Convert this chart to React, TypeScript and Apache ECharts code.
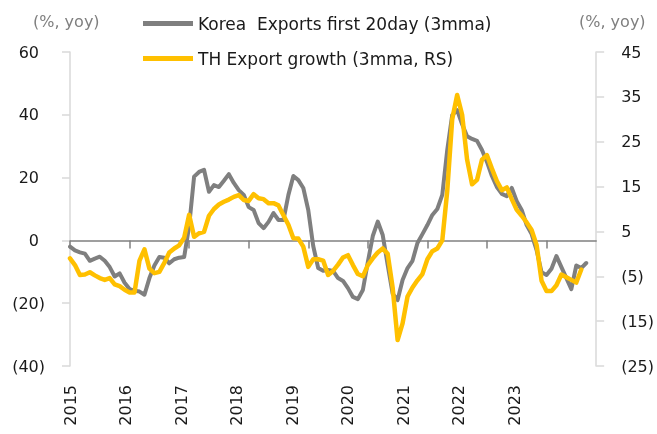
import React, { useEffect, useRef } from "react";
import * as echarts from "echarts";

const FONT = "DejaVu Sans";

// Monthly categories Jan 2015 .. Nov 2023
const categories: string[] = [];
for (let y = 2015; y <= 2023; y++) {
  for (let m = 1; m <= 12; m++) {
    if (y === 2023 && m > 11) break;
    categories.push(`${y}-${String(m).padStart(2, "0")}`);
  }
}

const yearLabels = ["2015", "2016", "2017", "2018", "2019", "2020", "2021", "2022", "2023"];

const koreaName = "Korea  Exports first 20day (3mma)";
const thName = "TH Export growth (3mma, RS)";

// Korea exports first 20 days, 3mma, % yoy (left axis)
const korea: (number | null)[] = [
  -2.0, -3.2, -3.8, -4.2, -6.5, -5.8, -5.2, -6.5, -8.5, -11.5, -10.5, -13.5,
  -15.5, -16.0, -16.3, -17.3, -12.0, -8.0, -5.3, -5.5, -7.3, -6.0, -5.5, -5.3,
  4.5, 20.3, 21.8, 22.5, 15.5, 17.6, 17.0, 19.0, 21.1, 18.3, 16.0, 14.5,
  10.6, 9.7, 5.5, 3.9, 5.9, 8.7, 6.5, 6.5, 14.5, 20.5, 19.2, 16.7,
  9.7, -1.8, -8.8, -9.7, -9.4, -9.7, -12.0, -12.9, -15.2, -18.0, -18.7, -15.8,
  -6.9, 1.4, 6.0, 1.7, -7.8, -17.0, -19.0, -12.6, -8.8, -6.5, -0.8, 2.0,
  4.9, 8.1, 10.0, 14.5, 28.8, 39.9, 41.5, 37.0, 33.2, 32.3, 31.7, 28.8,
  25.0, 20.5, 17.0, 14.8, 14.1, 16.7, 12.5, 9.7, 4.9, 2.0, -3.1, -10.1,
  -11.0, -9.0, -5.0, -8.5, -12.0, -15.5, -8.0, -8.8, -7.2, null, null,
];

// Thailand export growth, 3mma, % yoy (right axis)
const thailand: (number | null)[] = [
  -1.0, -2.5, -4.7, -4.6, -4.1, -4.8, -5.4, -5.8, -5.4, -6.8, -7.2, -8.0,
  -8.6, -8.6, -1.5, 1.0, -3.3, -4.3, -4.0, -2.0, 0.3, 1.2, 1.9, 3.6,
  8.7, 3.8, 4.6, 4.9, 8.5, 10.0, 11.0, 11.6, 12.1, 12.7, 13.1, 12.0,
  11.8, 13.3, 12.4, 12.2, 11.3, 11.3, 10.8, 8.6, 6.5, 3.5, 3.4, 1.6,
  -2.9, -1.2, -1.2, -1.5, -4.7, -3.8, -2.4, -0.8, -0.3, -2.5, -4.5, -5.0,
  -2.5, -1.0, 0.3, 1.2, 0.0, -7.5, -19.2, -15.5, -9.5, -7.5, -5.9, -4.5,
  -1.2, 0.6, 1.2, 3.0, 14.0, 30.0, 35.4, 31.0, 21.0, 15.5, 16.5, 21.0,
  22.0, 19.0, 16.2, 14.2, 14.8, 12.2, 9.8, 8.5, 7.0, 5.3, 2.0, -6.0,
  -8.3, -8.3, -7.0, -4.6, -5.2, -5.8, -6.4, -3.5, null, null, null,
];

const fmtLeft = (v: number) => (v < 0 ? `{n|(${-v})}` : `{p|${v}}`);
const fmtRight = (v: number) => (v < 0 ? `(${-v})` : `${v}`);

export default function App() {
  const ref = useRef<HTMLDivElement>(null);

  useEffect(() => {
    if (!ref.current) return;
    const chart = echarts.init(ref.current, null, { renderer: "svg" });
    const labelColor = "#1a1a1a";
    const axisGray = "#d9d9d9";
    chart.setOption({
      animation: false,
      textStyle: { fontFamily: FONT },
      grid: { left: 70, right: 60, top: 52, bottom: 68, containLabel: false },
      legend: [
        {
          data: [koreaName],
          left: 143,
          top: 15,
          padding: 0,
          icon: "rect",
          itemWidth: 50,
          itemHeight: 5,
          textStyle: { fontFamily: FONT, fontSize: 17, color: labelColor },
        },
        {
          data: [thName],
          left: 143,
          top: 50,
          padding: 0,
          icon: "rect",
          itemWidth: 50,
          itemHeight: 5,
          textStyle: { fontFamily: FONT, fontSize: 17, color: labelColor },
        },
      ],
      graphic: [
        {
          type: "text",
          left: 33,
          top: 13,
          style: { text: "(%, yoy)", font: `16px "${FONT}"`, fill: "#7f7f7f" },
        },
        {
          type: "text",
          left: 579,
          top: 13,
          style: { text: "(%, yoy)", font: `16px "${FONT}"`, fill: "#7f7f7f" },
        },
      ],
      xAxis: [
        {
          type: "category",
          data: categories,
          boundaryGap: false,
          position: "bottom",
          axisLine: { onZero: true, lineStyle: { color: "#808080", width: 1.5 } },
          axisTick: { show: true, interval: 11, length: 8, lineStyle: { color: "#808080", width: 1.5 } },
          axisLabel: { show: false },
          splitLine: { show: false },
        },
        {
          type: "value",
          position: "bottom",
          min: 0,
          max: 9.48,
          interval: 1,
          axisLine: { show: false, onZero: false },
          axisTick: { show: false },
          splitLine: { show: false },
          axisLabel: {
            rotate: 90,
            margin: 19,
            fontSize: 16,
            fontFamily: FONT,
            color: labelColor,
            showMaxLabel: false,
            formatter: (v: number) => {
              const k = Math.round(v);
              return Math.abs(v - k) < 1e-6 && yearLabels[k] ? yearLabels[k] : "";
            },
          },
        },
      ],
      yAxis: [
        {
          type: "value",
          position: "left",
          min: -40,
          max: 60,
          interval: 20,
          axisLine: { show: true, lineStyle: { color: axisGray, width: 1.5 } },
          axisTick: { show: true, length: 8, lineStyle: { color: axisGray, width: 1.5 } },
          splitLine: { show: false },
          axisLabel: {
            margin: 25,
            formatter: fmtLeft,
            rich: {
              p: { fontSize: 16, fontFamily: FONT, color: labelColor, padding: [0, 6, 0, 0] },
              n: { fontSize: 16, fontFamily: FONT, color: labelColor },
            },
          },
        },
        {
          type: "value",
          position: "right",
          min: -25,
          max: 45,
          interval: 10,
          axisLine: { show: true, lineStyle: { color: axisGray, width: 1.5 } },
          axisTick: { show: true, length: 8, lineStyle: { color: axisGray, width: 1.5 } },
          splitLine: { show: false },
          axisLabel: {
            margin: 25,
            fontSize: 16,
            fontFamily: FONT,
            color: labelColor,
            formatter: fmtRight,
          },
        },
      ],
      series: [
        {
          name: koreaName,
          type: "line",
          xAxisIndex: 0,
          yAxisIndex: 0,
          data: korea,
          symbol: "none",
          color: "#7f7f7f",
          lineStyle: { width: 4, color: "#7f7f7f", join: "round", cap: "round" },
          z: 2,
        },
        {
          name: thName,
          type: "line",
          xAxisIndex: 0,
          yAxisIndex: 1,
          data: thailand,
          symbol: "none",
          color: "#FFC000",
          lineStyle: { width: 4.5, color: "#FFC000", join: "round", cap: "round" },
          z: 3,
        },
      ],
    });
    return () => chart.dispose();
  }, []);

  return (
    <div
      ref={ref}
      style={{ position: "fixed", left: 0, top: 0, width: 657, height: 434 }}
    />
  );
}
